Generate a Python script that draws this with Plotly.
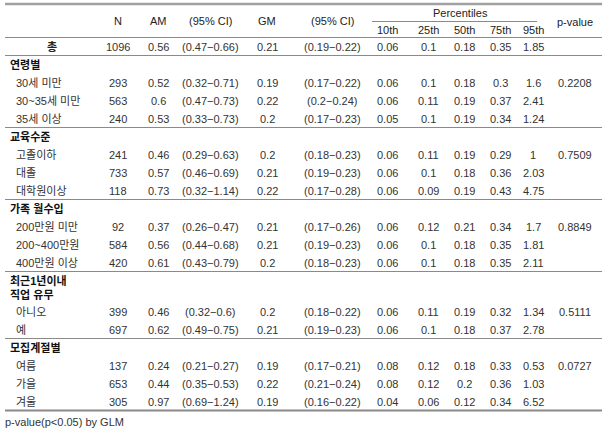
import plotly.graph_objects as go

# ---- data ----
total_label = '총'
total_vals = [1096, 0.56, 0.47, 0.66, 0.21, 0.19, 0.22, 0.06, 0.1, 0.18, 0.35, 1.85, None]

groups = ['연령별', '교육수준', '가족 월수입', '최근1년이내<br>직업 유무', '모집계절별']
group_items = [
    ['30세 미만', '30~35세 미만', '35세 이상'],
    ['고졸이하', '대졸', '대학원이상'],
    ['200만원 미만', '200~400만원', '400만원 이상'],
    ['아니오', '예'],
    ['여름', '가을', '겨울'],
]

n = [293, 563, 240, 241, 733, 118, 92, 584, 420, 399, 697, 137, 653, 305]
am = [0.52, 0.6, 0.53, 0.46, 0.57, 0.73, 0.37, 0.56, 0.61, 0.46, 0.62, 0.24, 0.44, 0.97]
am_lo = [0.32, 0.47, 0.33, 0.29, 0.46, 0.32, 0.26, 0.44, 0.43, 0.32, 0.49, 0.21, 0.35, 0.69]
am_hi = [0.71, 0.73, 0.73, 0.63, 0.69, 1.14, 0.47, 0.68, 0.79, 0.6, 0.75, 0.27, 0.53, 1.24]
gm = [0.19, 0.22, 0.2, 0.2, 0.21, 0.22, 0.21, 0.21, 0.2, 0.2, 0.21, 0.19, 0.22, 0.19]
gm_lo = [0.17, 0.2, 0.17, 0.18, 0.19, 0.17, 0.17, 0.19, 0.18, 0.18, 0.19, 0.17, 0.21, 0.16]
gm_hi = [0.22, 0.24, 0.23, 0.23, 0.23, 0.28, 0.26, 0.23, 0.23, 0.22, 0.23, 0.21, 0.24, 0.22]
p10 = [0.06, 0.06, 0.05, 0.06, 0.06, 0.06, 0.06, 0.06, 0.06, 0.06, 0.06, 0.08, 0.08, 0.04]
p25 = [0.1, 0.11, 0.1, 0.11, 0.1, 0.09, 0.12, 0.1, 0.1, 0.11, 0.1, 0.12, 0.12, 0.06]
p50 = [0.18, 0.19, 0.19, 0.19, 0.18, 0.19, 0.21, 0.18, 0.18, 0.19, 0.18, 0.18, 0.2, 0.12]
p75 = [0.3, 0.37, 0.34, 0.29, 0.36, 0.43, 0.34, 0.35, 0.35, 0.32, 0.37, 0.33, 0.36, 0.34]
p95 = [1.6, 2.41, 1.24, 1, 2.03, 4.75, 1.7, 1.81, 2.11, 1.34, 2.78, 0.53, 1.03, 6.52]
pval = [0.2208, None, None, 0.7509, None, None, 0.8849, None, None, 0.5111, None, 0.0727, None, None]

headers = ['N', 'AM', '(95% CI)', 'GM', '(95% CI)']
pct_headers = ['10th', '25th', '50th', '75th', '95th']
footnote = 'p-value(p<0.05) by GLM'

# ---- layout constants (pixels) ----
W, H = 611, 432
FONT = 'Liberation Sans, Noto Sans CJK KR, sans-serif'
TXT = '#333333'
LINE = '#8a8a8a'
col_x = [118, 158, 210, 267, 332, 387, 428, 464, 500, 533, 575]
X0, X1 = 5, 602
ROW_H = 18
ROW_H2 = 31


def fmt(v):
    return '' if v is None else '{:g}'.format(v)


def ci(lo, hi):
    return '({:g}−{:g})'.format(lo, hi)


annotations = []
shapes = []


def txt(x, y, s, anchor='center', bold=False, color=TXT):
    annotations.append(dict(x=x, y=y, xref='x', yref='y', text=('<b>%s</b>' % s) if bold else s,
                            showarrow=False, xanchor=anchor, yanchor='middle', align=anchor,
                            font=dict(family=FONT, size=11, color=color)))


def hline(y, x0=X0, x1=X1, width=1, color=LINE):
    shapes.append(dict(type='line', xref='x', yref='y', x0=x0, x1=x1, y0=y, y1=y,
                       line=dict(color=color, width=width)))


def row_cells(y, vals):
    cells = [fmt(vals[0]), fmt(vals[1]), ci(vals[2], vals[3]), fmt(vals[4]), ci(vals[5], vals[6])]
    cells += [fmt(v) for v in vals[7:12]] + [fmt(vals[12])]
    for x, c in zip(col_x, cells):
        if c:
            txt(x, y, c)


# header
hline(4, width=2.5, color='#a0a0a0')
for x, h in zip(col_x[:5], headers):
    txt(x, 21, h, color='#222222')
txt((col_x[5] + col_x[9]) / 2, 13, 'Percentiles', color='#222222')
hline(21.5, 372, 537)
for x, h in zip(col_x[5:10], pct_headers):
    txt(x, 30, h, color='#222222')
txt(col_x[10], 22, 'p-value', color='#222222')
hline(37.5)

# total row
y = 37.5
txt(52, y + ROW_H / 2, total_label, bold=True, color='#222222')
row_cells(y + ROW_H / 2, total_vals)
y += ROW_H
hline(y)

k = 0
for g, items in zip(groups, group_items):
    h = ROW_H2 if '<br>' in g else ROW_H
    txt(8, y + h / 2, g, anchor='left', bold=True, color='#111111')
    y += h
    for it in items:
        yc = y + ROW_H / 2
        txt(14, yc, it, anchor='left')
        row_cells(yc, [n[k], am[k], am_lo[k], am_hi[k], gm[k], gm_lo[k], gm_hi[k],
                       p10[k], p25[k], p50[k], p75[k], p95[k], pval[k]])
        k += 1
        y += ROW_H
    hline(y, width=2 if g == groups[-1] else 1)

txt(3, y + 11, footnote, anchor='left')

fig = go.Figure()
fig.update_layout(width=W, height=H, margin=dict(l=0, r=0, t=0, b=0),
                  paper_bgcolor='white', plot_bgcolor='white',
                  xaxis=dict(range=[0, W], visible=False, fixedrange=True),
                  yaxis=dict(range=[H, 0], visible=False, fixedrange=True),
                  annotations=annotations, shapes=shapes, showlegend=False)

fig.write_html("out.html", config={'displayModeBar': False},
               post_script="document.body.style.margin='0';")
